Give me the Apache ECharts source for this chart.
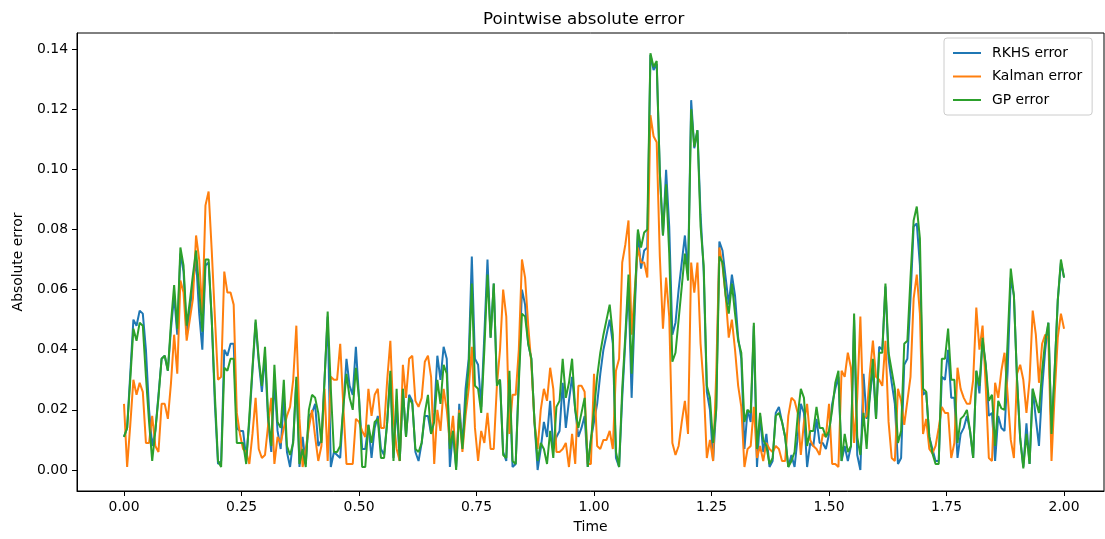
<!DOCTYPE html>
<html>
<head>
<meta charset="utf-8">
<title>Pointwise absolute error</title>
<script src="https://cdn.jsdelivr.net/npm/echarts@6/dist/echarts.min.js"></script>
<style>
  html, body { margin: 0; padding: 0; background: #fff; }
  #chart { width: 1105px; height: 539px; }
</style>
</head>
<body>
<div id="chart"></div>
<script>
// 301 samples on [0, 2]
var tStart = 0;
var tEnd = 2;
var nSamples = 301;

var xTicks = [0, 0.25, 0.5, 0.75, 1.0, 1.25, 1.5, 1.75, 2.0];
var yTicks = [0, 0.02, 0.04, 0.06, 0.08, 0.10, 0.12, 0.14];

var rkhsError = [
  0.011, 0.014, 0.032, 0.050, 0.048, 0.053, 0.052, 0.040, 0.020, 0.008,
  0.013, 0.025, 0.037, 0.038, 0.033, 0.047, 0.058, 0.045, 0.072, 0.066,
  0.045, 0.053, 0.062, 0.070, 0.052, 0.040, 0.068, 0.069, 0.050, 0.022,
  0.002, 0.003, 0.040, 0.038, 0.042, 0.042, 0.014, 0.013, 0.013, 0.004,
  0.016, 0.033, 0.049, 0.036, 0.026, 0.038, 0.016, 0.006, 0.030, 0.013,
  0.007, 0.024, 0.006, 0.001, 0.010, 0.030, 0.001, 0.011, 0.002, 0.018,
  0.019, 0.022, 0.008, 0.010, 0.030, 0.051, 0.001, 0.006, 0.005, 0.004,
  0.021, 0.037, 0.028, 0.025, 0.041, 0.024, 0.007, 0.007, 0.015, 0.004,
  0.014, 0.018, 0.007, 0.005, 0.016, 0.032, 0.004, 0.022, 0.003, 0.027,
  0.011, 0.025, 0.023, 0.006, 0.003, 0.009, 0.018, 0.018, 0.012, 0.019,
  0.038, 0.030, 0.041, 0.037, 0.001, 0.013, 0.001, 0.022, 0.008, 0.027,
  0.037, 0.071, 0.037, 0.035, 0.021, 0.045, 0.070, 0.044, 0.062, 0.029,
  0.030, 0.006, 0.003, 0.030, 0.001, 0.002, 0.031, 0.060, 0.055, 0.042,
  0.037, 0.016, 0.000, 0.007, 0.016, 0.011, 0.023, 0.007, 0.011, 0.013,
  0.029, 0.014, 0.023, 0.031, 0.020, 0.011, 0.014, 0.018, 0.001, 0.010,
  0.016, 0.022, 0.032, 0.040, 0.045, 0.050, 0.042, 0.004, 0.001, 0.024,
  0.043, 0.061, 0.024, 0.053, 0.079, 0.067, 0.073, 0.074, 0.138, 0.133,
  0.135, 0.099, 0.078, 0.0998, 0.081, 0.045, 0.049, 0.060, 0.069, 0.078,
  0.065, 0.123, 0.107, 0.113, 0.085, 0.066, 0.026, 0.020, 0.003, 0.021,
  0.076, 0.073, 0.064, 0.055, 0.065, 0.058, 0.044, 0.037, 0.007, 0.020,
  0.016, 0.048, 0.001, 0.018, 0.006, 0.012, 0.001, 0.003, 0.019, 0.021,
  0.016, 0.011, 0.001, 0.005, 0.001, 0.011, 0.022, 0.019, 0.001, 0.009,
  0.008, 0.017, 0.009, 0.009, 0.007, 0.012, 0.022, 0.027, 0.031, 0.003,
  0.008, 0.003, 0.008, 0.050, 0.005, 0.000, 0.032, 0.017, 0.024, 0.034,
  0.017, 0.041, 0.040, 0.061, 0.037, 0.029, 0.022, 0.002, 0.004, 0.035,
  0.037, 0.057, 0.081, 0.082, 0.068, 0.025, 0.026, 0.011, 0.007, 0.003,
  0.003, 0.031, 0.030, 0.040, 0.024, 0.024, 0.004, 0.012, 0.014, 0.018,
  0.013, 0.004, 0.033, 0.0255, 0.043, 0.035, 0.018, 0.019, 0.003, 0.018,
  0.014, 0.013, 0.033, 0.064, 0.058, 0.030, 0.0105, 0.001, 0.0155, 0.002,
  0.027, 0.017, 0.008, 0.027, 0.040, 0.049, 0.012, 0.033, 0.0565, 0.069,
  0.064
];

var kalmanError = [
  0.022, 0.001, 0.015, 0.030, 0.025, 0.029, 0.026, 0.009, 0.009, 0.018,
  0.008, 0.006, 0.022, 0.022, 0.017, 0.029, 0.045, 0.032, 0.063, 0.059,
  0.043, 0.050, 0.057, 0.078, 0.070, 0.052, 0.088, 0.0926, 0.073, 0.051,
  0.030, 0.031, 0.066, 0.059, 0.059, 0.055, 0.019, 0.012, 0.007, 0.006,
  0.002, 0.012, 0.024, 0.007, 0.004, 0.005, 0.015, 0.024, 0.002, 0.011,
  0.009, 0.014, 0.018, 0.021, 0.030, 0.048, 0.017, 0.001, 0.007, 0.014,
  0.020, 0.011, 0.003, 0.008, 0.027, 0.003, 0.031, 0.030, 0.030, 0.042,
  0.021, 0.002, 0.002, 0.002, 0.017, 0.016, 0.013, 0.011, 0.027, 0.018,
  0.025, 0.027, 0.014, 0.014, 0.030, 0.043, 0.017, 0.007, 0.003, 0.035,
  0.024, 0.037, 0.038, 0.023, 0.021, 0.024, 0.036, 0.038, 0.031, 0.002,
  0.020, 0.013, 0.027, 0.020, 0.009, 0.018, 0.003, 0.020, 0.006, 0.018,
  0.027, 0.041, 0.014, 0.003, 0.013, 0.009, 0.019, 0.007, 0.007, 0.028,
  0.040, 0.060, 0.051, 0.012, 0.025, 0.025, 0.040, 0.070, 0.064, 0.048,
  0.035, 0.016, 0.007, 0.020, 0.027, 0.023, 0.034, 0.027, 0.006, 0.006,
  0.007, 0.009, 0.001, 0.012, 0.002, 0.028, 0.028, 0.026, 0.002, 0.002,
  0.032, 0.008, 0.007, 0.010, 0.010, 0.013, 0.007, 0.033, 0.037, 0.069,
  0.075, 0.083, 0.045, 0.060, 0.074, 0.069, 0.069, 0.064, 0.118, 0.111,
  0.109, 0.071, 0.047, 0.064, 0.051, 0.009, 0.005, 0.008, 0.016, 0.023,
  0.012, 0.069, 0.059, 0.069, 0.042, 0.028, 0.004, 0.010, 0.003, 0.032,
  0.074, 0.068, 0.058, 0.044, 0.050, 0.040, 0.028, 0.021, 0.001, 0.007,
  0.008, 0.021, 0.004, 0.008, 0.003, 0.009, 0.007, 0.006, 0.008, 0.007,
  0.003, 0.003, 0.018, 0.024, 0.023, 0.019, 0.005, 0.016, 0.022, 0.010,
  0.008, 0.007, 0.005, 0.012, 0.011, 0.022, 0.002, 0.002, 0.001, 0.033,
  0.031, 0.039, 0.034, 0.009, 0.024, 0.051, 0.017, 0.018, 0.032, 0.043,
  0.031, 0.030, 0.028, 0.043, 0.016, 0.004, 0.003, 0.027, 0.023, 0.015,
  0.023, 0.031, 0.057, 0.065, 0.052, 0.012, 0.017, 0.007, 0.0055, 0.008,
  0.014, 0.021, 0.019, 0.019, 0.004, 0.009, 0.034, 0.027, 0.024, 0.022,
  0.022, 0.030, 0.054, 0.040, 0.048, 0.028, 0.004, 0.003, 0.029, 0.024,
  0.033, 0.039, 0.025, 0.010, 0.004, 0.032, 0.035, 0.030, 0.019, 0.030,
  0.053, 0.045, 0.029, 0.042, 0.045, 0.044, 0.003, 0.025, 0.044, 0.052,
  0.047
];

var gpError = [
  0.011, 0.014, 0.030, 0.047, 0.043, 0.049, 0.048, 0.031, 0.016, 0.003,
  0.013, 0.024, 0.037, 0.038, 0.033, 0.049, 0.0615, 0.047, 0.074, 0.068,
  0.048, 0.056, 0.065, 0.073, 0.060, 0.046, 0.070, 0.070, 0.050, 0.025,
  0.003, 0.001, 0.034, 0.033, 0.037, 0.037, 0.009, 0.009, 0.009, 0.002,
  0.018, 0.034, 0.050, 0.037, 0.028, 0.041, 0.018, 0.008, 0.035, 0.016,
  0.014, 0.030, 0.008, 0.005, 0.009, 0.031, 0.002, 0.007, 0.001, 0.020,
  0.025, 0.024, 0.019, 0.009, 0.030, 0.0527, 0.027, 0.006, 0.006, 0.008,
  0.021, 0.032, 0.024, 0.020, 0.034, 0.024, 0.001, 0.001, 0.015, 0.009,
  0.016, 0.017, 0.004, 0.004, 0.016, 0.033, 0.003, 0.027, 0.003, 0.027,
  0.011, 0.024, 0.022, 0.007, 0.006, 0.009, 0.019, 0.025, 0.012, 0.016,
  0.030, 0.022, 0.035, 0.032, 0.007, 0.013, 0.000, 0.019, 0.007, 0.022,
  0.034, 0.062, 0.028, 0.027, 0.019, 0.040, 0.065, 0.044, 0.062, 0.028,
  0.030, 0.005, 0.004, 0.033, 0.003, 0.002, 0.029, 0.052, 0.051, 0.042,
  0.037, 0.016, 0.003, 0.009, 0.007, 0.002, 0.013, 0.004, 0.021, 0.023,
  0.037, 0.024, 0.029, 0.037, 0.020, 0.014, 0.019, 0.024, 0.001, 0.010,
  0.020, 0.031, 0.039, 0.045, 0.050, 0.055, 0.045, 0.006, 0.001, 0.027,
  0.045, 0.065, 0.032, 0.057, 0.080, 0.074, 0.079, 0.080, 0.1386, 0.134,
  0.136, 0.099, 0.078, 0.095, 0.072, 0.036, 0.039, 0.050, 0.061, 0.072,
  0.063, 0.120, 0.1075, 0.113, 0.081, 0.068, 0.028, 0.024, 0.009, 0.020,
  0.071, 0.069, 0.058, 0.052, 0.062, 0.052, 0.043, 0.039, 0.016, 0.020,
  0.019, 0.049, 0.007, 0.019, 0.010, 0.008, 0.002, 0.004, 0.018, 0.019,
  0.016, 0.011, 0.001, 0.003, 0.006, 0.018, 0.027, 0.024, 0.008, 0.013,
  0.013, 0.021, 0.014, 0.014, 0.011, 0.013, 0.020, 0.029, 0.033, 0.003,
  0.012, 0.006, 0.008, 0.052, 0.011, 0.005, 0.019, 0.007, 0.025, 0.037,
  0.017, 0.039, 0.039, 0.062, 0.039, 0.033, 0.027, 0.009, 0.013, 0.042,
  0.043, 0.064, 0.083, 0.0876, 0.077, 0.027, 0.026, 0.011, 0.0055, 0.002,
  0.002, 0.037, 0.037, 0.047, 0.030, 0.030, 0.009, 0.017, 0.018, 0.020,
  0.013, 0.004, 0.033, 0.028, 0.044, 0.035, 0.023, 0.025, 0.008, 0.023,
  0.0205, 0.020, 0.043, 0.067, 0.058, 0.030, 0.0105, 0.0005, 0.012, 0.002,
  0.027, 0.023, 0.019, 0.033, 0.043, 0.049, 0.012, 0.033, 0.0565, 0.070,
  0.064
];

var font = "DejaVu Sans";

function pairs(values) {
  var step = (tEnd - tStart) / (nSamples - 1);
  return values.map(function (v, i) {
    return [tStart + i * step, v];
  });
}

var myChart = echarts.init(document.getElementById("chart"));
var option = {
  animation: false,
  backgroundColor: "#fff",
  title: {
    text: "Pointwise absolute error",
    left: 478,
    top: 6,
    textStyle: { fontFamily: font, fontSize: 16.7, fontWeight: "normal", color: "#000" }
  },
  legend: {
    orient: "vertical",
    left: 944,
    top: 38,
    padding: [7, 10, 7, 8],
    itemWidth: 28,
    itemHeight: 14,
    itemGap: 7.5,
    // plain line handles, no markers
    itemStyle: { opacity: 0 },
    lineStyle: { width: 2 },
    backgroundColor: "rgba(255,255,255,0.8)",
    borderColor: "#cccccc",
    borderWidth: 1,
    borderRadius: 3,
    textStyle: { fontFamily: font, fontSize: 13.9, color: "#000", lineHeight: 16, padding: [0, 0, 0, 6] },
    data: ["RKHS error", "Kalman error", "GP error"]
  },
  grid: {
    left: 77,
    right: 1,
    top: 33,
    bottom: 48,
    show: true,
    borderColor: "#000",
    borderWidth: 1,
    backgroundColor: "#fff"
  },
  xAxis: {
    type: "value",
    min: -0.1,
    max: 2.085,
    name: "Time",
    nameLocation: "middle",
    nameGap: 29,
    nameTextStyle: { fontFamily: font, fontSize: 13.9, color: "#000" },
    axisLine: { show: true, onZero: false, lineStyle: { color: "#000", width: 1 } },
    axisTick: { show: true, length: 5, lineStyle: { color: "#000" }, customValues: xTicks },
    axisLabel: {
      fontFamily: font, fontSize: 13.9, color: "#000", margin: 9,
      customValues: xTicks,
      formatter: function (v) { return v.toFixed(2); }
    },
    splitLine: { show: false }
  },
  yAxis: {
    type: "value",
    min: -0.00698,
    max: 0.14533,
    name: "Absolute error",
    nameLocation: "middle",
    nameGap: 52,
    nameTextStyle: { fontFamily: font, fontSize: 13.9, color: "#000" },
    axisLine: { show: true, onZero: false, lineStyle: { color: "#000", width: 1 } },
    axisTick: { show: true, length: 5, lineStyle: { color: "#000" }, customValues: yTicks },
    axisLabel: {
      fontFamily: font, fontSize: 13.9, color: "#000", margin: 9,
      customValues: yTicks,
      formatter: function (v) { return v.toFixed(2); }
    },
    splitLine: { show: false }
  },
  series: [
    {
      name: "RKHS error",
      type: "line",
      symbol: "none",
      color: "#1f77b4",
      lineStyle: { width: 2, color: "#1f77b4" },
      data: pairs(rkhsError)
    },
    {
      name: "Kalman error",
      type: "line",
      symbol: "none",
      color: "#ff7f0e",
      lineStyle: { width: 2, color: "#ff7f0e" },
      data: pairs(kalmanError)
    },
    {
      name: "GP error",
      type: "line",
      symbol: "none",
      color: "#2ca02c",
      lineStyle: { width: 2, color: "#2ca02c" },
      data: pairs(gpError)
    }
  ]
};

option && myChart.setOption(option);
</script>
</body>
</html>
